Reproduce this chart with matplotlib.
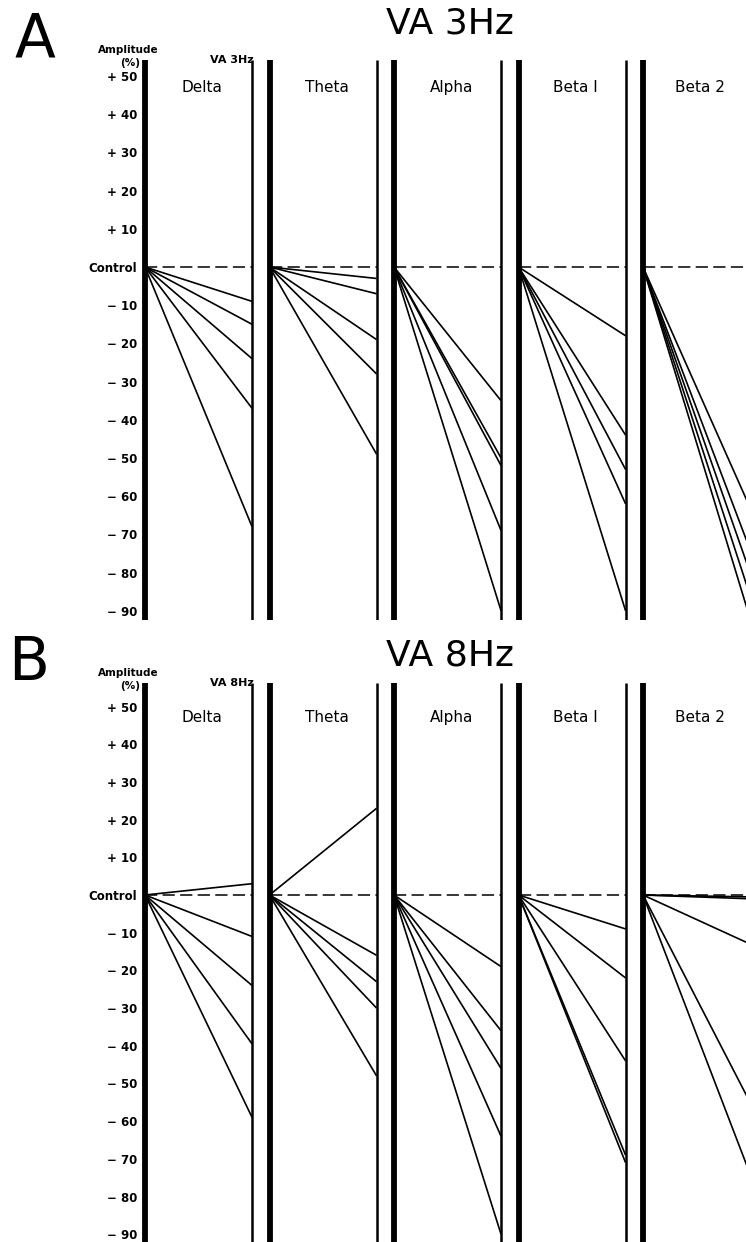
import numpy as np
import matplotlib.pyplot as plt

W, H = 746, 1242

bands = ["Delta", "Theta", "Alpha", "Beta I", "Beta 2"]

# amplitude change (% of control) at the end of each line, panel A (VA 3Hz)
a_delta = [-9, -15, -24, -37, -68]
a_theta = [-3, -7, -19, -28, -49]
a_alpha = [-35, -50, -52, -69, -90]
a_beta1 = [-18, -44, -53, -62, -90]
a_beta2 = [-63, -74, -80, -86, -92]

# panel B (VA 8Hz)
b_delta = [3, -11, -24, -39.5, -59]
b_theta = [23, -16, -23, -30, -48]
b_alpha = [-19, -36, -46, -64, -90]
b_beta1 = [-9, -22, -44, -69, -71]
b_beta2 = [-0.5, -1, -13, -55, -74]

tick_vals = [50, 40, 30, 20, 10, 0, -10, -20, -30, -40, -50, -60, -70, -80, -90]
tick_labels = ["+ 50", "+ 40", "+ 30", "+ 20", "+ 10", "Control",
               "\u2212 10", "\u2212 20", "\u2212 30", "\u2212 40", "\u2212 50",
               "\u2212 60", "\u2212 70", "\u2212 80", "\u2212 90"]

COL_W = 0.86       # position of the thin right line inside each column
PX_PER_COL = 124.5


def px(x, y):
    return x / W, 1 - y / H


def draw_panel(fig, top_px, bottom_px, zero_px, px_per_unit, series, letter, title, small,
               letter_xy, title_y):
    left_px = 145
    ax = fig.add_axes([left_px / W, 1 - bottom_px / H, 1 - left_px / W, (bottom_px - top_px) / H])
    ax.set_xlim(0, (W - left_px) / PX_PER_COL)
    ax.set_ylim(-(bottom_px - zero_px) / px_per_unit, (zero_px - top_px) / px_per_unit)
    for s in ax.spines.values():
        s.set_visible(False)
    ax.set_xticks([])
    ax.set_yticks(tick_vals)
    ax.set_yticklabels(tick_labels, fontsize=8.5, fontweight="bold")
    ax.tick_params(axis="y", length=0, pad=5.5)

    for i, (name, vals) in enumerate(zip(bands, series)):
        ax.axvline(i, color="black", lw=4.2, zorder=5, clip_on=False, solid_capstyle="butt")
        ax.axvline(i + COL_W, color="black", lw=1.8, zorder=5, solid_capstyle="butt")
        ax.plot([i, i + COL_W], [0, 0], color="black", lw=1.1, dashes=(8, 3.5))
        for v in vals:
            ax.plot([i, i + COL_W], [0, v], color="black", lw=1.2, solid_capstyle="butt")
        ax.text(i + 0.46, 47, name, ha="center", va="center", fontsize=11)

    ymax = ax.get_ylim()[1]
    ax.text(0.87, ymax, small, ha="right", va="center", fontsize=8, fontweight="bold",
            clip_on=False)

    fig.text(*px(128, top_px - 10), "Amplitude", ha="center", va="center",
             fontsize=7.5, fontweight="bold")
    fig.text(*px(130, top_px + 3), "(%)", ha="center", va="center",
             fontsize=7.5, fontweight="bold")
    fig.text(*px(*letter_xy), letter, ha="center", va="center", fontsize=43)
    fig.text(*px(450, title_y), title, ha="center", va="center", fontsize=26)
    return ax


fig = plt.figure(figsize=(W / 100, H / 100), dpi=100)

draw_panel(fig, 60, 620, 267, 3.82, [a_delta, a_theta, a_alpha, a_beta1, a_beta2],
           "A", "VA 3Hz", "VA 3Hz", (35, 40), 23)
draw_panel(fig, 683, 1242, 895, 3.77, [b_delta, b_theta, b_alpha, b_beta1, b_beta2],
           "B", "VA 8Hz", "VA 8Hz", (29, 663), 655)

fig.savefig("out.png", dpi=100, facecolor="white")
